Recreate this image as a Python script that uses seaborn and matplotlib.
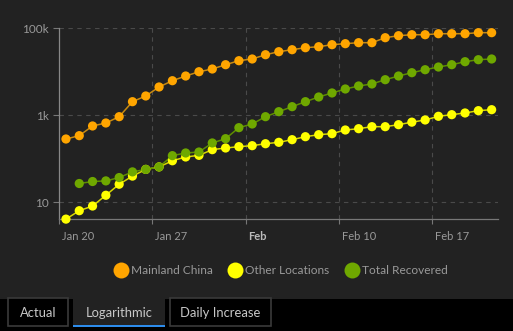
import numpy as np
import pandas as pd
import matplotlib
matplotlib.use("Agg")
import matplotlib.pyplot as plt
import matplotlib.dates as mdates
import matplotlib.transforms as mtransforms
from matplotlib.lines import Line2D
from matplotlib.patches import Rectangle
import seaborn as sns

# ---------------- data ----------------
dates = pd.date_range("2020-01-20 12:00", periods=33, freq="D")
mainland_china = [285, 340, 568, 665, 929, 2055, 2780, 4475, 6240, 8000, 10040, 11590,
                  14560, 17990, 19700, 24700, 28970, 32200, 35800, 37760, 42000, 44300,
                  46700, 46700, 60800, 67600, 71200, 71200, 75100, 75100, 75100, 79300, 79300]
other_locations = [4.1, 6.4, 8.2, 14.5, 26, 40, 57, 65, 90, 110, 120, 162,
                   177, 190, 200, 222, 239, 275, 322, 358, 378, 459, 492, 547, 547,
                   608, 695, 780, 948, 1033, 1130, 1277, 1345]
total_recovered = [np.nan, 27, 30, 31, 37, 50, 57, 65, 118, 136, 143, 231,
                   290, 519, 631, 929, 1210, 1578, 2055, 2635, 3260, 4025, 4720, 5250,
                   6580, 8000, 9530, 11160, 12880, 14560, 17060, 18970, 19700]
series_names = ["Mainland China", "Other Locations", "Total Recovered"]
y_ticks = [10, 1000, 100000]
y_tick_labels = ["10", "1k", "100k"]
x_ticks = ["2020-01-20", "2020-01-27", "2020-02-03", "2020-02-10", "2020-02-17"]
x_tick_labels = ["Jan 20", "Jan 27", "Feb", "Feb 10", "Feb 17"]
tab_labels = ["Actual", "Logarithmic", "Daily Increase"]

df = pd.DataFrame({
    "date": np.tile(dates, 3),
    "value": mainland_china + other_locations + total_recovered,
    "series": np.repeat(series_names, len(dates)),
})

marker_colors = ["#FFA500", "#FFFF00", "#6FA800"]
line_colors = ["#C88A10", "#D8D800", "#5E8E00"]

BG = "#222222"
W, H = 513, 331

sns.set_theme(style="dark")
plt.rcParams["font.family"] = ["Lato", "DejaVu Sans"]

fig = plt.figure(figsize=(W / 100, H / 100), dpi=100, facecolor=BG)
ax = fig.add_axes([59.3 / W, 1 - 219.3 / H, (498.3 - 59.3) / W, (219.3 - 28.3) / H])
ax.set_facecolor(BG)

sns.lineplot(data=df, x="date", y="value", hue="series", palette=line_colors,
             linewidth=1.1, legend=False, ax=ax, zorder=2)
sns.scatterplot(data=df, x="date", y="value", hue="series", palette=marker_colors,
                s=44, linewidth=0, legend=False, ax=ax, zorder=3)
for art in ax.lines + ax.collections:
    art.set_clip_on(False)

ax.set_yscale("log")
ax.set_ylim(4.06, 100000)
ax.set_xlim(pd.Timestamp("2020-01-20"), pd.Timestamp("2020-02-22"))
ax.set_xlabel("")
ax.set_ylabel("")

ax.yaxis.set_major_locator(matplotlib.ticker.FixedLocator(y_ticks))
ax.yaxis.set_minor_locator(matplotlib.ticker.NullLocator())
ax.set_yticklabels(y_tick_labels)
xt = [mdates.date2num(pd.Timestamp(d)) for d in x_ticks]
ax.set_xticks(xt)
ax.set_xticklabels(x_tick_labels)

ax.tick_params(axis="y", which="major", direction="out", length=4.5, width=0.8,
               color="#777777", labelcolor="#999999", labelsize=8.5, pad=3, left=True)
ax.tick_params(axis="x", which="major", direction="out", length=3.5, width=0.8,
               color="#777777", labelcolor="#999999", labelsize=8, pad=5, bottom=True)

offset = mtransforms.ScaledTranslation(3 / 100, 0, fig.dpi_scale_trans)
for lab in ax.get_xticklabels():
    lab.set_horizontalalignment("left")
    lab.set_transform(lab.get_transform() + offset)
    if lab.get_text() == "Feb":
        lab.set_fontweight("bold")
        lab.set_color("#BBBBBB")

ax.grid(False)
for y in y_ticks:
    ax.axhline(y, color="#4a4a4a", lw=0.8, ls=(0, (4, 4)), zorder=1)
for x in xt[1:]:
    ax.axvline(x, color="#4a4a4a", lw=0.8, ls=(0, (4, 4)), zorder=1)

for s in ["top", "right"]:
    ax.spines[s].set_visible(False)
ax.spines["left"].set_color("#888888")
ax.spines["bottom"].set_color("#777777")
ax.spines["left"].set_linewidth(0.9)
ax.spines["bottom"].set_linewidth(0.9)
ax.spines["left"].set_zorder(1.5)
ax.spines["bottom"].set_zorder(1.5)

# legend
handles = [Line2D([], [], marker="o", ls="none", markersize=11.5, markerfacecolor=c,
                  markeredgewidth=0) for c in marker_colors]
leg = fig.legend(handles, series_names, loc="center", bbox_to_anchor=(281 / W, 1 - 271 / H),
                 ncol=3, frameon=False, fontsize=8.6, handlelength=1.1, handletextpad=0.3,
                 columnspacing=1.3, labelcolor="#999999")

# tab strip
fig.patches.append(Rectangle((0, 0), 1, 1 - 299 / H, transform=fig.transFigure,
                             facecolor="#000000", edgecolor="none", zorder=0))
tabs = [(8, 68), (73, 165), (170, 271)]
for i, ((x0, x1), name) in enumerate(zip(tabs, tab_labels)):
    if i == 1:
        fig.patches.append(Rectangle((x0 / W, 1 - 326 / H), (x1 - x0) / W, (326 - 299) / H,
                                     transform=fig.transFigure, facecolor=BG,
                                     edgecolor="none", zorder=1))
        fig.patches.append(Rectangle((x0 / W, 1 - 326.5 / H), (x1 - x0) / W, 2 / H,
                                     transform=fig.transFigure, facecolor="#2D8CEB",
                                     edgecolor="none", zorder=2))
    else:
        fig.patches.append(Rectangle((x0 / W, 1 - 325.5 / H), (x1 - x0) / W, (325.5 - 298) / H,
                                     transform=fig.transFigure, facecolor="#000000",
                                     edgecolor="#3a3a3a", linewidth=1.2, zorder=1))
    fig.text((x0 + x1) / 2 / W, 1 - 313 / H, name, ha="center", va="center",
             fontsize=9.4, color="#C8C8C8")

fig.savefig("out.png", dpi=100, facecolor=BG)
